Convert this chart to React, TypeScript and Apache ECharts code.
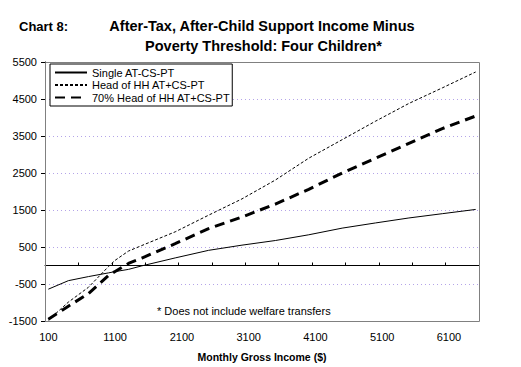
import React, { useEffect, useRef } from "react";
import * as echarts from "echarts";

const incomeX = [100, 400, 700, 1000, 1100, 1300, 1500, 2000, 2500, 3000, 3500, 4000, 4500, 5000, 5500, 6000, 6500];
const singleValues = [-640, -410, -300, -200, -165, -105, -10, 205, 410, 550, 675, 830, 1010, 1150, 1285, 1400, 1515];
const headValues = [-1480, -990, -590, -30, 140, 390, 540, 910, 1360, 1800, 2310, 2900, 3400, 3900, 4380, 4800, 5230];
const head70Values = [-1450, -1100, -760, -270, -160, 55, 200, 590, 995, 1310, 1660, 2060, 2500, 2900, 3300, 3700, 4040];

const seriesNames = ["Single AT-CS-PT", "Head of HH AT+CS-PT", "70% Head of HH AT+CS-PT"];
const yTicks = [-1500, -500, 500, 1500, 2500, 3500, 4500, 5500];
const xLabelTicks = [100, 1100, 2100, 3100, 4100, 5100, 6100];
const xBoundaryTicks = [50, 550, 1050, 1550, 2050, 2550, 3050, 3550, 4050, 4550, 5050, 5550, 6050, 6550];

const FONT = "'Liberation Sans', Arial, sans-serif";

export default function App() {
  const ref = useRef<HTMLDivElement>(null);
  useEffect(() => {
    if (!ref.current) return;
    const chart = echarts.init(ref.current, undefined, { renderer: "svg" });
    const pair = (vals: number[]) => incomeX.map((x, i) => [x, vals[i]]);
    const plain = (v: number) => String(v);
    chart.setOption({
      animation: false,
      backgroundColor: "#ffffff",
      textStyle: { fontFamily: FONT },
      grid: {
        left: 45,
        top: 62,
        width: 434,
        height: 259,
        show: false,
      },
      legend: {
        orient: "vertical",
        left: 50,
        top: 64,
        padding: [3, 2, 3, 4],
        itemGap: 1.5,
        itemWidth: 32,
        itemHeight: 10,
        borderColor: "#000",
        borderWidth: 1,
        backgroundColor: "#fff",
        itemStyle: { opacity: 0 },
        textStyle: { fontSize: 11, color: "#000", fontFamily: FONT },
        data: seriesNames,
      },
      xAxis: [
        {
          type: "value",
          min: 50,
          max: 6550,
          position: "bottom",
          axisLine: { show: false, onZero: false },
          axisTick: { show: false },
          splitLine: { show: false },
          axisLabel: {
            customValues: xLabelTicks,
            formatter: plain,
            fontSize: 11,
            color: "#000",
            margin: 10,
            fontFamily: FONT,
          },
          name: "Monthly Gross Income ($)",
          nameLocation: "middle",
          nameGap: 30,
          nameTextStyle: { fontSize: 10.5, fontWeight: "bold", color: "#000", fontFamily: FONT },
        },
        {
          type: "value",
          min: 50,
          max: 6550,
          position: "top",
          axisLine: { show: true, onZero: true, lineStyle: { color: "#000", width: 1 } },
          axisTick: { show: true, customValues: xBoundaryTicks, length: 3, lineStyle: { color: "#000" } },
          axisLabel: { show: false },
          splitLine: { show: false },
        },
      ],
      yAxis: {
        type: "value",
        min: -1500,
        max: 5500,
        axisLine: { show: true, lineStyle: { color: "#000", width: 1 } },
        axisTick: { show: true, customValues: yTicks, length: 4, lineStyle: { color: "#000" } },
        axisLabel: { customValues: yTicks, formatter: plain, fontSize: 11, color: "#000", margin: 8, fontFamily: FONT },
        splitLine: { show: true, lineStyle: { color: "#b4a4e8", type: [1, 3], width: 1 } },
      },
      series: [
        {
          name: seriesNames[0],
          type: "line",
          xAxisIndex: 0,
          data: pair(singleValues),
          showSymbol: false,
          symbol: "none",
          lineStyle: { color: "#000", width: 1, type: "solid" },
          itemStyle: { color: "#000", opacity: 0 },
        },
        {
          name: seriesNames[1],
          type: "line",
          xAxisIndex: 0,
          data: pair(headValues),
          showSymbol: false,
          symbol: "none",
          lineStyle: { color: "#000", width: 1, type: [3, 2] },
          itemStyle: { color: "#000", opacity: 0 },
        },
        {
          name: seriesNames[2],
          type: "line",
          xAxisIndex: 0,
          data: pair(head70Values),
          showSymbol: false,
          symbol: "none",
          lineStyle: { color: "#000", width: 3, type: [10, 6] },
          itemStyle: { color: "#000", opacity: 0 },
        },
      ],
      graphic: [
        {
          type: "rect",
          z: 1,
          silent: true,
          shape: { x: 45.5, y: 62.5, width: 434, height: 259 },
          style: { fill: "none", stroke: "#808080", lineWidth: 1 },
        },
        {
          type: "text",
          left: 19,
          top: 20,
          style: { text: "Chart 8:", font: `bold 13px ${FONT}`, fill: "#000" },
        },
        {
          type: "text",
          x: 262,
          y: 26,
          style: {
            text: "After-Tax, After-Child Support Income Minus",
            font: `bold 14.5px ${FONT}`,
            fill: "#000",
            align: "center",
            verticalAlign: "middle",
          },
        },
        {
          type: "text",
          x: 263.5,
          y: 45.5,
          style: {
            text: "Poverty Threshold: Four Children*",
            font: `bold 14.5px ${FONT}`,
            fill: "#000",
            align: "center",
            verticalAlign: "middle",
          },
        },
        {
          type: "text",
          x: 157,
          y: 311,
          style: {
            text: "* Does not include welfare transfers",
            font: `11px ${FONT}`,
            fill: "#000",
            align: "left",
            verticalAlign: "middle",
          },
        },
      ],
    });
    return () => chart.dispose();
  }, []);
  return (
    <div
      ref={ref}
      style={{ position: "absolute", left: 0, top: 0, width: 521, height: 367, background: "#fff" }}
    />
  );
}
